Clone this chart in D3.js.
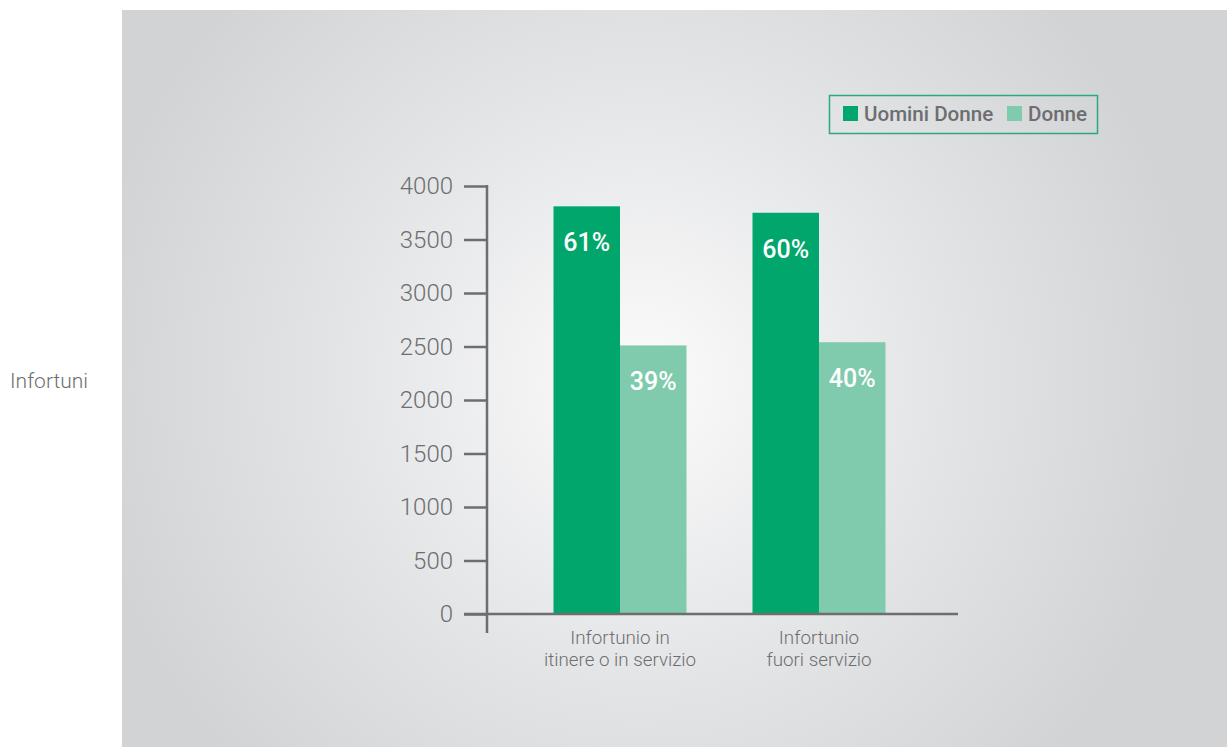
<!DOCTYPE html>
<html>
<head>
<meta charset="utf-8">
<script src="https://cdn.jsdelivr.net/npm/d3@7"></script>
<style>
  html, body { margin: 0; padding: 0; background: #ffffff; }
  svg { display: block; }
  text { font-family: Roboto, sans-serif; }
</style>
</head>
<body>
<svg id="chart" width="1227" height="747"></svg>
<script>
// Accidents by type, split by gender
const categories = [["Infortunio in", "itinere o in servizio"], ["Infortunio", "fuori servizio"]];
const seriesNames = ["Uomini Donne", "Donne"];
const uomini = [3810, 3750];
const donne = [2510, 2540];
const uominiPct = ["61%", "60%"];
const donnePct = ["39%", "40%"];
const yTicks = [0, 500, 1000, 1500, 2000, 2500, 3000, 3500, 4000];
const yTitle = "Infortuni";

const colors = ["#00a66c", "#80cbad"];
const textGray = "#6d6e70";
const axisGray = "#6d6e70";

const svg = d3.select("#chart");

// Background panel with radial glow
const defs = svg.append("defs");
const grad = defs.append("radialGradient")
  .attr("id", "bg").attr("gradientUnits", "userSpaceOnUse")
  .attr("cx", 640).attr("cy", 380).attr("r", 560);
grad.append("stop").attr("offset", "0%").attr("stop-color", "#fbfbfb");
grad.append("stop").attr("offset", "55%").attr("stop-color", "#e3e4e6");
grad.append("stop").attr("offset", "100%").attr("stop-color", "#d2d3d5");
svg.append("rect").attr("x", 122).attr("y", 10).attr("width", 1105).attr("height", 737)
  .attr("fill", "url(#bg)");

// Scales
const y = d3.scaleLinear().domain([0, 4000]).range([614, 186]);
const groupWidth = 133;
const groupCenters = [620, 819];
const x1 = d3.scaleBand().domain([0, 1]).range([0, groupWidth]);

// Y axis
const yAxis = d3.axisLeft(y).tickValues(yTicks).tickSize(23).tickPadding(11).tickFormat(d3.format("d"));
const gy = svg.append("g").attr("transform", "translate(487,0)").call(yAxis);
gy.select(".domain").remove();
gy.selectAll(".tick line").attr("stroke", axisGray).attr("stroke-width", 2.5);
gy.selectAll(".tick text").attr("fill", textGray).attr("font-size", 24).attr("font-weight", 300)
  .style("font-family", "Roboto, sans-serif");
svg.append("line").attr("x1", 487).attr("x2", 487).attr("y1", 185).attr("y2", 633)
  .attr("stroke", axisGray).attr("stroke-width", 2.5);

// Bars
const groups = svg.append("g").selectAll("g").data(categories).join("g")
  .attr("transform", (d, i) => `translate(${groupCenters[i] - groupWidth / 2},0)`);

const rows = categories.map((c, i) => [
  { v: uomini[i], p: uominiPct[i], s: 0 },
  { v: donne[i], p: donnePct[i], s: 1 }
]);

groups.selectAll("rect").data((d, i) => rows[i]).join("rect")
  .attr("x", d => x1(d.s)).attr("width", x1.bandwidth())
  .attr("y", d => y(d.v)).attr("height", d => y(0) - y(d.v))
  .attr("fill", d => colors[d.s]);

groups.selectAll("text.pct").data((d, i) => rows[i]).join("text")
  .attr("class", "pct")
  .attr("x", d => x1(d.s) + x1.bandwidth() / 2)
  .attr("y", d => y(d.v) + 45)
  .attr("text-anchor", "middle").attr("fill", "#ffffff")
  .attr("font-size", 25).attr("font-weight", 500)
  .text(d => d.p);

// X axis line
svg.append("line").attr("x1", 464).attr("x2", 958).attr("y1", 614).attr("y2", 614)
  .attr("stroke", axisGray).attr("stroke-width", 2.5);

// Category labels
categories.forEach((lines, i) => {
  const t = svg.append("text").attr("text-anchor", "middle").attr("fill", textGray)
    .attr("font-size", 18.8).attr("font-weight", 300);
  lines.forEach((ln, j) => {
    t.append("tspan").attr("x", groupCenters[i]).attr("y", 644 + j * 22).text(ln);
  });
});

// Y title
svg.append("text").attr("x", 10).attr("y", 388).attr("fill", textGray)
  .attr("font-size", 21).attr("font-weight", 300).text(yTitle);

// Legend
svg.append("rect").attr("x", 829.5).attr("y", 95.5).attr("width", 268).attr("height", 38)
  .attr("fill", "none").attr("stroke", "#2aaa78").attr("stroke-width", 1.5);
const legendPos = [843, 1007];
seriesNames.forEach((name, i) => {
  svg.append("rect").attr("x", legendPos[i]).attr("y", 106).attr("width", 15).attr("height", 15)
    .attr("fill", colors[i]);
  svg.append("text").attr("x", legendPos[i] + 21).attr("y", 121).attr("fill", textGray)
    .attr("font-size", 20.6).attr("font-weight", 500)
    .text(name);
});
</script>
</body>
</html>
